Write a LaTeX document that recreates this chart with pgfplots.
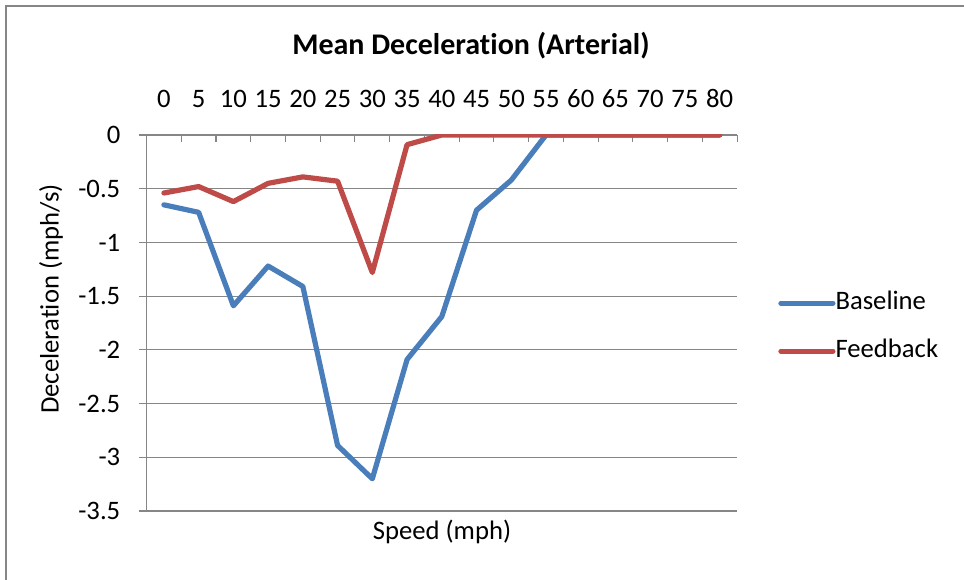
\documentclass[border=0pt]{standalone}
\usepackage{fontspec}
\setmainfont{Carlito}[Ligatures=NoCommon]
\usepackage{pgfplots}
\pgfplotsset{compat=1.18}
\definecolor{xlblue}{RGB}{74,126,187}
\definecolor{xlred}{RGB}{190,75,72}
\definecolor{xlgrid}{RGB}{134,134,134}

\begin{document}
\begin{tikzpicture}
% canvas 964x580 px at 0.75pt per px
\path[use as bounding box] (0,0) rectangle (723pt,-435pt);
\draw[xlgrid, line width=1.4pt] (4.5pt,-435pt) -- (4.5pt,-4.5pt) -- (723pt,-4.5pt);

\begin{axis}[
  at={(109.9pt,-101.25pt)}, anchor=north west,
  scale only axis,
  width=442.9pt, height=282pt,
  xmin=-0.5, xmax=16.5,
  ymin=-3.5, ymax=0,
  axis x line*=top, axis y line*=left,
  axis line style={xlgrid, line width=0.8pt, -},
  tick align=inside,
  xtick={0,...,16},
  xticklabels={0,5,10,15,20,25,30,35,40,45,50,55,60,65,70,75,80},
  major x tick style={draw=none},
  minor xtick={-0.5,0.5,...,16.5},
  minor tick length=5.25pt,
  minor x tick style={xlgrid, line width=0.8pt},
  ytick={-3.5,-3,-2.5,-2,-1.5,-1,-0.5,0},
  yticklabels={-3.5,-3,-2.5,-2,-1.5,-1,-0.5,0},
  major tick length=6pt,
  major y tick style={xlgrid, line width=0.8pt, xshift=-6pt},
  ymajorgrids=true,
  grid style={xlgrid, line width=0.8pt},
  ticklabel style={font=\fontsize{20}{24}\selectfont},
  xticklabel style={anchor=base, inner sep=0pt, yshift=20.25pt},
  yticklabel style={anchor=east, inner sep=0pt, xshift=-19.5pt},
  legend style={at={(1.0694,0.489)}, anchor=west, draw=none, fill=none,
    inner sep=0pt, row sep=20pt,
    nodes={inner sep=0pt, text height=13pt, text depth=3pt,
      font=\fontsize{20}{24}\selectfont}},
  legend cell align=left,
  legend image code/.code={\draw[#1, line width=3.9pt, line cap=round] (0pt,0pt) -- (39pt,0pt);},
  every axis plot/.append style={line width=3.9pt, line join=round, line cap=round},
]
\addplot[xlblue] coordinates {
  (0,-0.65) (1,-0.72) (2,-1.59) (3,-1.22) (4,-1.41) (5,-2.89) (6,-3.20)
  (7,-2.09) (8,-1.69) (9,-0.70) (10,-0.42) (11,0) (12,0) (13,0) (14,0) (15,0) (16,0)
};
\addlegendentry{Baseline}
\addplot[xlred] coordinates {
  (0,-0.54) (1,-0.48) (2,-0.62) (3,-0.45) (4,-0.39) (5,-0.43) (6,-1.28)
  (7,-0.09) (8,0) (9,0) (10,0) (11,0) (12,0) (13,0) (14,0) (15,0) (16,0)
};
\addlegendentry{Feedback}
\end{axis}

\node[anchor=base, font=\fontsize{22.5}{27}\selectfont\bfseries] at (353.25pt,-41.25pt)
  {Mean Deceleration (Arterial)};
\node[anchor=base, font=\fontsize{20}{24}\selectfont] at (331.5pt,-405pt) {Speed (mph)};
\node[rotate=90, font=\fontsize{20}{24}\selectfont] at (38.25pt,-224.25pt)
  {Deceleration (mph/s)};
\end{tikzpicture}
\end{document}
